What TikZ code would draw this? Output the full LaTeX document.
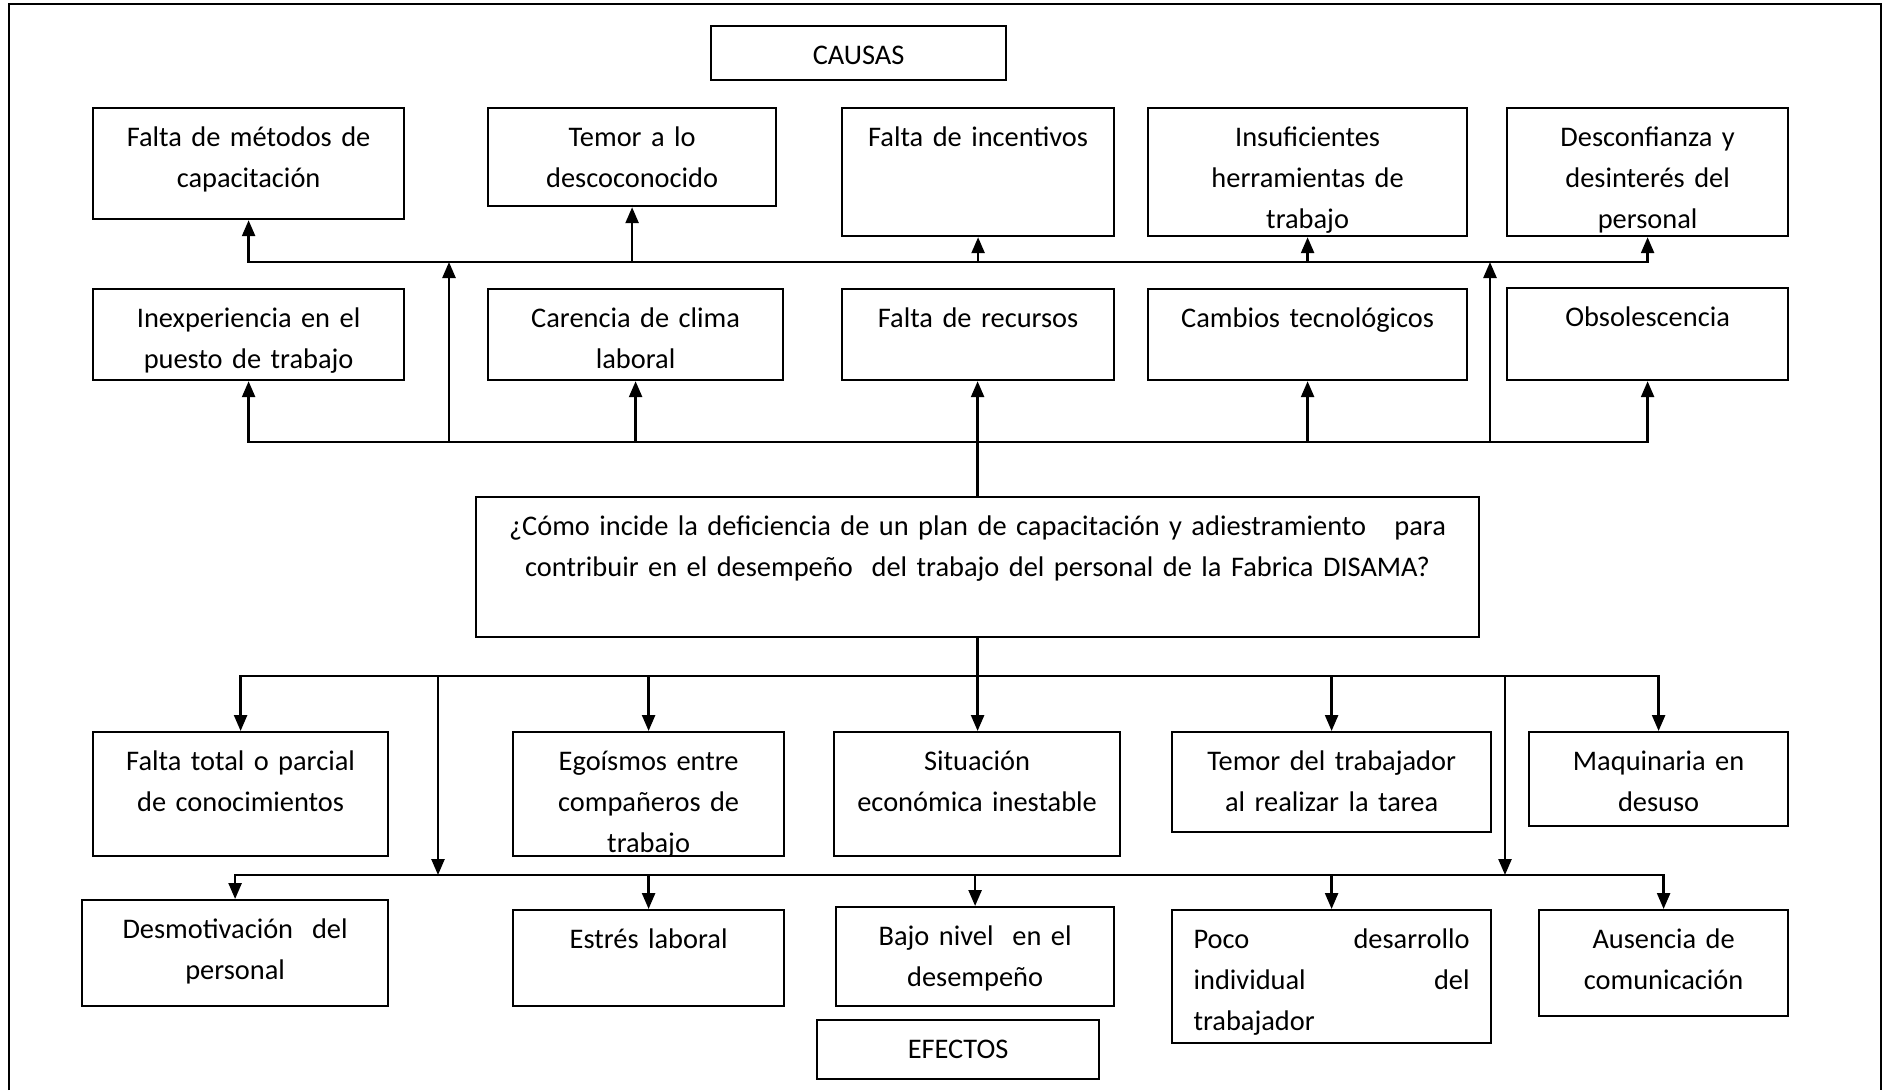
\documentclass[tikz,border=0pt]{standalone}
\usepackage{fontspec}
\setmainfont{Carlito}
\usetikzlibrary{arrows.meta}

\begin{document}
\begin{tikzpicture}[x=1pt, y=-1pt,
    caja/.style={rectangle, draw, line width=2.2pt, anchor=north west, inner xsep=0pt, inner ysep=0pt,
      align=center, text height=38.5pt, font=\fontsize{28.4}{41}\selectfont},
    flecha/.style={-{Triangle[length=16pt,width=13pt]}, line width=2.5pt},
    linea/.style={line width=2.5pt, line cap=rect}]
  \useasboundingbox (0,0) rectangle (1888,1090);
  \draw [line width=2.5pt] (9,1090) -- (9,4) -- (1881,4) -- (1881,1090);

  % causas
  \node [caja, text width=295pt, text depth=15.5pt] (causas) at (710,25) {CAUSAS};
  \node [caja, text width=311pt, text depth=72.5pt] (m1) at (92,107) {Falta de métodos de\\capacitación};
  \node [caja, text width=288pt, text depth=59.5pt] (m2) at (487,107) {Temor a lo\\descoconocido};
  \node [caja, text width=272pt, text depth=89.5pt] (m3) at (841,107) {Falta de incentivos};
  \node [caja, text width=319pt, text depth=89.5pt] (m4) at (1147,107) {Insuficientes\\herramientas de\\trabajo};
  \node [caja, text width=281pt, text depth=89.5pt] (m5) at (1506,107) {Desconfianza y\\desinterés del\\personal};

  \node [caja, text width=311pt, text depth=52.5pt] (c1) at (92,288) {Inexperiencia en el\\puesto de trabajo};
  \node [caja, text width=295pt, text depth=52.5pt] (c2) at (487,288) {Carencia de clima\\laboral};
  \node [caja, text width=272pt, text depth=52.5pt] (c3) at (841,288) {Falta de recursos};
  \node [caja, text width=319pt, text depth=52.5pt] (c4) at (1147,288) {Cambios tecnológicos};
  \node [caja, text width=281pt, text depth=53.5pt] (c5) at (1506,287) {Obsolescencia};

  % problema
  \node [caja, text width=1003pt, text depth=101.5pt] (pregunta) at (475,496)
    {¿Cómo incide la deficiencia de un plan de capacitación y adiestramiento\ \ \ para\\
     contribuir en el desempeño\ \ del trabajo del personal de la Fabrica DISAMA?};

  % efectos
  \node [caja, text width=295pt, text depth=85.5pt] (e1) at (92,731) {Falta total o parcial\\de conocimientos};
  \node [caja, text width=271pt, text depth=85.5pt] (e2) at (512,731) {Egoísmos entre\\compañeros de\\trabajo};
  \node [caja, text width=286pt, text depth=85.5pt] (e3) at (833,731) {Situación\\económica inestable};
  \node [caja, text width=319pt, text depth=61.5pt] (e4) at (1171,731) {Temor del trabajador\\al realizar la tarea};
  \node [caja, text width=259pt, text depth=55.5pt] (e5) at (1528,731) {Maquinaria en\\desuso};

  \node [caja, text width=306pt, text depth=67.5pt] (f1) at (81,899) {Desmotivación\ \ del\\personal};
  \node [caja, text width=271pt, text depth=57.5pt] (f2) at (512,909) {Estrés laboral};
  \node [caja, text width=278pt, text depth=60.5pt] (f3) at (835,906) {Bajo nivel\ \ en el\\desempeño};
  \node [caja, align=left, text width=276pt, inner xsep=21.5pt, text depth=94.5pt] (f4) at (1171,909)
    {Poco\hfill desarrollo\\individual\hfill del\\trabajador};
  \node [caja, text width=249pt, text depth=67.5pt] (f5) at (1538,909) {Ausencia de\\comunicación};
  \node [caja, text width=282pt, text depth=20.5pt] (efectos) at (816,1019) {EFECTOS};

  % lineas de causas
  \coordinate (bus1) at (0,262);
  \coordinate (bus2) at (0,442);
  \coordinate (sub1) at (449,0);
  \coordinate (sub2) at (1490,0);
  \draw [linea] (m1.south |- bus1) -- (m5.south |- bus1);
  \draw [linea] (c1.south |- bus2) -- (c5.south |- bus2);
  \foreach \n in {m1,m2,m3,m4,m5}
    \draw [flecha] (\n.south |- bus1) -- (\n.south);
  \foreach \n in {c1,c2,c4,c5}
    \draw [flecha] (\n.south |- bus2) -- (\n.south);
  \draw [flecha] (pregunta.north) -- (pregunta.north |- c3.south);
  \draw [flecha] (sub1 |- bus2) -- (sub1 |- bus1);
  \draw [flecha] (sub2 |- bus2) -- (sub2 |- bus1);

  % lineas de efectos
  \coordinate (bus3) at (0,676);
  \coordinate (bus4) at (0,875);
  \coordinate (baj1) at (438,0);
  \coordinate (baj2) at (1505,0);
  \draw [linea] (e1.north |- bus3) -- (e5.north |- bus3);
  \draw [linea] (f1.north |- bus4) -- (f5.north |- bus4);
  \draw [flecha] (pregunta.south) -- (pregunta.south |- e3.north);
  \foreach \n in {e1,e2,e4,e5}
    \draw [flecha] (\n.north |- bus3) -- (\n.north);
  \foreach \n in {f1,f2,f3,f4,f5}
    \draw [flecha] (\n.north |- bus4) -- (\n.north);
  \draw [flecha] (baj1 |- bus3) -- (baj1 |- bus4);
  \draw [flecha] (baj2 |- bus3) -- (baj2 |- bus4);
\end{tikzpicture}
\end{document}
